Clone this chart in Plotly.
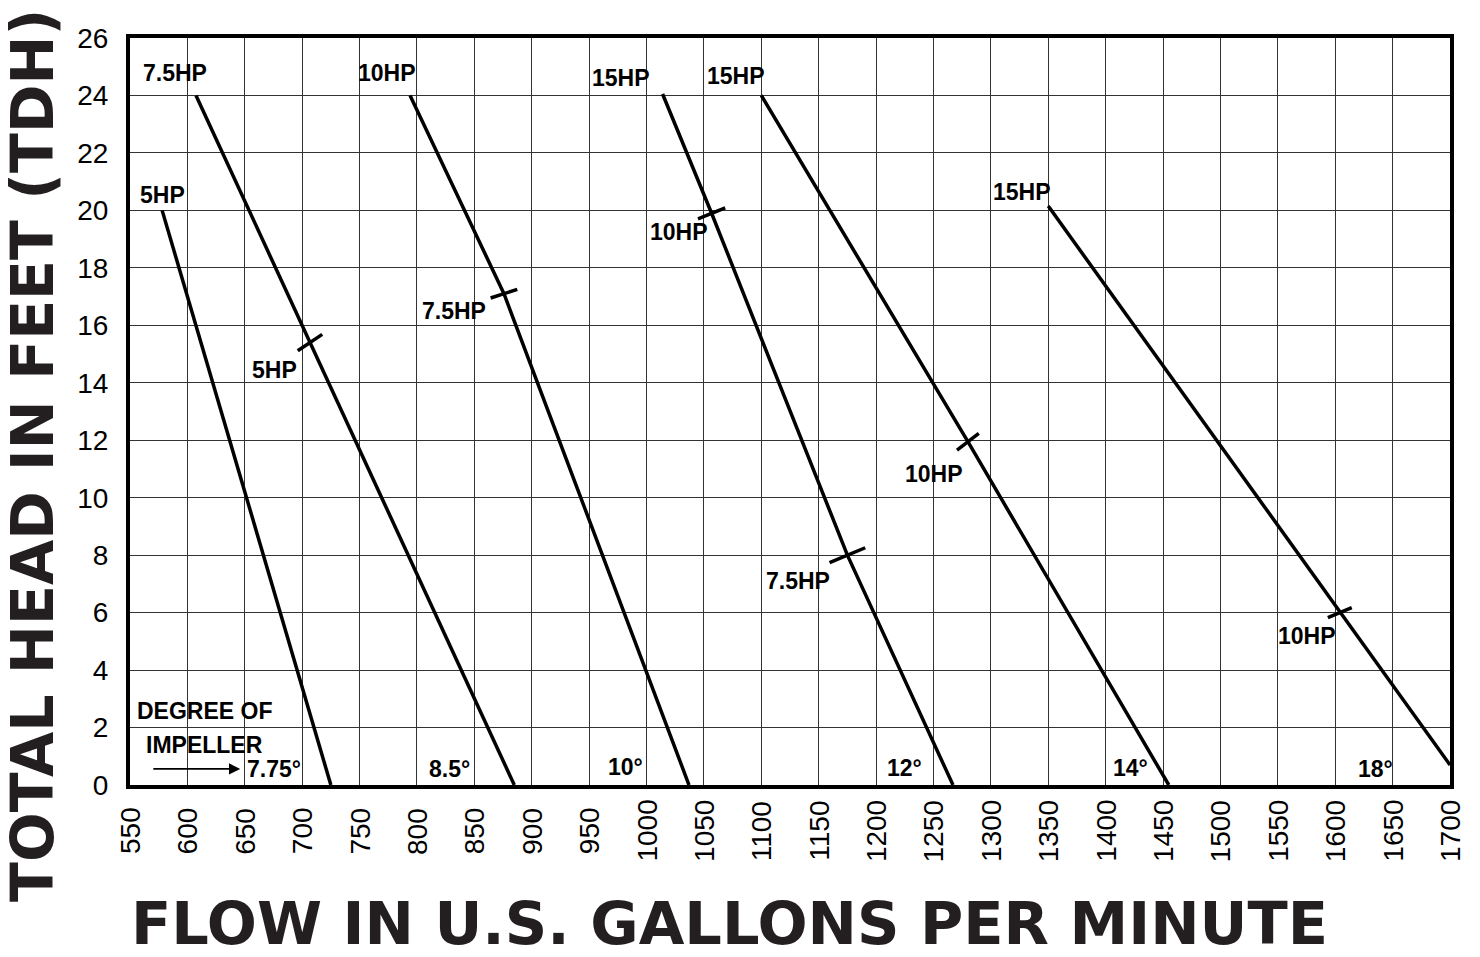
import plotly.graph_objects as go

# ---- axis ticks ----
flow_ticks = list(range(550, 1701, 50))
head_ticks = list(range(0, 27, 2))

# ---- pump curves (flow gpm, head ft) ----
flow_775 = [578, 725]
head_775 = [20.0, 0.0]

flow_85 = [607.5, 706.8, 884.8]
head_85 = [24.0, 15.4, 0.0]

flow_10 = [794, 875.8, 1037]
head_10 = [24.0, 17.1, 0.0]

flow_12 = [1014, 1056.7, 1175, 1267]
head_12 = [24.05, 19.9, 8.0, 0.0]

flow_14 = [1100, 1280, 1455]
head_14 = [24.0, 11.95, 0.0]

flow_18 = [1350, 1604, 1700]
head_18 = [20.15, 6.0, 0.7]

# ---- horsepower change points ----
hp_change_flow = [706.8, 875.8, 1056.7, 1175, 1280, 1604]
hp_change_head = [15.4, 17.1, 19.9, 8.0, 11.95, 6.0]
hp_change_label = ["5HP", "7.5HP", "10HP", "7.5HP", "10HP", "10HP"]

# ---- curve top labels ----
top_label = ["5HP", "7.5HP", "10HP", "15HP", "15HP", "15HP"]

# ---- impeller degree labels ----
degree_label = ["7.75°", "8.5°", "10°", "12°", "14°", "18°"]

fig = go.Figure()

curves = [(flow_775, head_775), (flow_85, head_85), (flow_10, head_10),
          (flow_12, head_12), (flow_14, head_14), (flow_18, head_18)]
for fx, hy in curves:
    fig.add_trace(go.Scatter(x=fx, y=hy, mode="lines",
                             line=dict(color="black", width=3.5),
                             showlegend=False, hoverinfo="skip"))

# tick marks at HP change points (rotation & size per mark)
tick_angle = [-33.6, -18, -22, -22.5, -37.5, -22.6]
tick_size = [21, 20, 21, 27.6, 19.6, 18.5]
fig.add_trace(go.Scatter(
    x=hp_change_flow, y=hp_change_head, mode="markers",
    marker=dict(symbol="line-ew", size=tick_size, angle=tick_angle,
                color="black", opacity=1,
                line=dict(color="black", width=3.5)),
    showlegend=False, hoverinfo="skip"))

label_font = dict(family="Liberation Sans, Arial, sans-serif",
                  size=23, color="black", weight="bold")

annotations = []
top_pos = [(578.3, 20.52), (588.8, 24.77), (774.3, 24.77),
           (977.4, 24.62), (1077.6, 24.68), (1327, 20.63)]
for t, (x, y) in zip(top_label, top_pos):
    annotations.append(dict(x=x, y=y, text=t, showarrow=False, font=label_font,
                            xanchor="center", yanchor="middle"))

hp_pos = [(675.6, 14.46), (832.7, 16.49), (1028.3, 19.24),
          (1132.2, 7.11), (1250.8, 10.83), (1575.4, 5.18)]
for t, (x, y) in zip(hp_change_label, hp_pos):
    annotations.append(dict(x=x, y=y, text=t, showarrow=False, font=label_font,
                            xanchor="center", yanchor="middle"))

deg_pos = [(675.6, 0.55), (828.3, 0.56), (981.9, 0.61),
           (1224.6, 0.59), (1421.3, 0.59), (1635.2, 0.55)]
for t, (x, y) in zip(degree_label, deg_pos):
    annotations.append(dict(x=x, y=y, text=t, showarrow=False, font=label_font,
                            xanchor="center", yanchor="middle"))

annotations.append(dict(x=614.9, y=2.58, text="DEGREE OF", showarrow=False,
                        font=label_font, xanchor="center", yanchor="middle"))
annotations.append(dict(x=615, y=1.39, text="IMPELLER", showarrow=False,
                        font=label_font, xanchor="center", yanchor="middle"))
annotations.append(dict(x=646, y=0.56, ax=569, ay=0.56, axref="x", ayref="y",
                        xref="x", yref="y", text="", showarrow=True,
                        arrowhead=2, arrowsize=1.4, arrowwidth=1.6,
                        arrowcolor="black"))

# x tick labels, rotated and centred below the axis
tick_font = dict(family="Liberation Sans, Arial, sans-serif",
                 size=28, color="black")
for v in flow_ticks:
    annotations.append(dict(x=v, y=-0.0616, xref="x", yref="paper",
                            text=str(v), showarrow=False, textangle=-90,
                            font=tick_font, xanchor="center", yanchor="middle"))

title_font = dict(family="DejaVu Sans", size=59, color="#231f20", weight="bold")
annotations.append(dict(xref="paper", yref="paper", x=0.4538, y=-0.186,
                        text="FLOW IN U.S. GALLONS PER MINUTE", showarrow=False,
                        font=title_font, xanchor="center", yanchor="middle"))
annotations.append(dict(xref="paper", yref="paper", x=-0.0735, y=0.4418,
                        text="TOTAL HEAD IN FEET (TDH)", showarrow=False,
                        textangle=-90, font=dict(title_font, size=58.5),
                        xanchor="center", yanchor="middle"))

fig.update_layout(
    width=1480, height=957,
    margin=dict(l=130, r=30, t=38, b=172),
    paper_bgcolor="white", plot_bgcolor="white",
    annotations=annotations,
    xaxis=dict(range=[550, 1700], tickvals=flow_ticks, showticklabels=False,
               showgrid=True, gridcolor="#333333",
               gridwidth=1, showline=True, linecolor="black", linewidth=4,
               mirror=True, zeroline=False, ticks=""),
    yaxis=dict(range=[0, 26], tickvals=head_ticks, tickfont=tick_font,
               showgrid=True, gridcolor="#333333", gridwidth=1,
               showline=True, linecolor="black", linewidth=4, mirror=True,
               zeroline=False, ticks="outside", ticklen=12, tickcolor="white"),
)

fig.write_html("out.html", config={"displayModeBar": False},
               post_script="document.body.style.margin='0px';")
